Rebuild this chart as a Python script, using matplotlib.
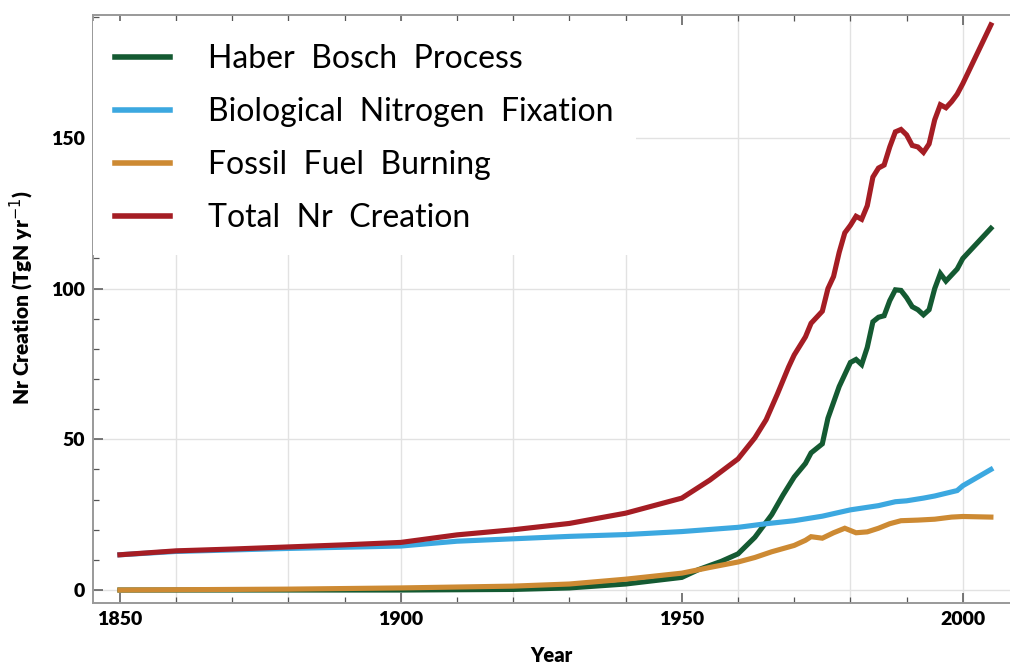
import matplotlib
matplotlib.use("Agg")
import matplotlib.pyplot as plt
from matplotlib.ticker import MultipleLocator, FixedLocator

# Haber Bosch Process
hb_years = [1850, 1900, 1910, 1920, 1930, 1940, 1950, 1953, 1957, 1960, 1963, 1966,
            1968, 1970, 1972, 1973, 1975, 1976, 1978, 1980, 1981, 1982, 1983, 1984,
            1985, 1986, 1987, 1988, 1989, 1990, 1991, 1992, 1993, 1994, 1995, 1996,
            1997, 1998, 1999, 2000, 2005]
hb_vals = [0, 0, 0.1, 0.2, 0.7, 2.0, 4.2, 6.8, 9.5, 12, 17.5, 25,
           31.5, 37.5, 42, 45.5, 48.5, 57, 67.5, 75.5, 76.5, 74.8, 80.5, 89,
           90.5, 91, 96, 99.6, 99.4, 97, 94, 93, 91.3, 93, 100, 105,
           102.5, 104.5, 106.5, 110, 120]

# Biological Nitrogen Fixation
bnf_years = [1850, 1860, 1870, 1880, 1890, 1900, 1910, 1920, 1930, 1940, 1950, 1955,
             1960, 1965, 1970, 1975, 1980, 1985, 1988, 1990, 1993, 1995, 1999, 2000, 2005]
bnf_vals = [11.7, 12.8, 13.3, 13.8, 14.2, 14.6, 16.2, 17.0, 17.8, 18.4, 19.4, 20.1,
            20.8, 22.0, 23.0, 24.5, 26.6, 28.0, 29.3, 29.6, 30.5, 31.2, 33.0, 34.6, 40.0]

# Fossil Fuel Burning
ff_years = [1850, 1860, 1870, 1880, 1890, 1900, 1910, 1920, 1930, 1940, 1950, 1955,
            1960, 1963, 1966, 1970, 1972, 1973, 1975, 1977, 1979, 1981, 1983, 1985,
            1987, 1989, 1992, 1995, 1998, 2000, 2005]
ff_vals = [0, 0.1, 0.2, 0.3, 0.5, 0.7, 1.0, 1.3, 2.0, 3.6, 5.6, 7.5,
           9.3, 10.8, 12.7, 14.8, 16.5, 17.7, 17.2, 19.0, 20.5, 19.0, 19.3, 20.5,
           22.0, 23.0, 23.2, 23.5, 24.2, 24.4, 24.2]

# Total Nr Creation
tot_years = [1850, 1860, 1870, 1880, 1890, 1900, 1910, 1920, 1930, 1940, 1950, 1955,
             1960, 1963, 1965, 1967, 1969, 1970, 1972, 1973, 1975, 1976, 1977, 1978,
             1979, 1980, 1981, 1982, 1983, 1984, 1985, 1986, 1987, 1988, 1989, 1990,
             1991, 1992, 1993, 1994, 1995, 1996, 1997, 1998, 1999, 2000, 2005]
tot_vals = [11.7, 13.0, 13.6, 14.3, 15.0, 15.8, 18.3, 20.0, 22.1, 25.5, 30.5, 36.5,
            43.5, 50.5, 56.5, 65, 74, 78, 84, 88.5, 92.5, 100, 104, 112,
            118.5, 121, 124, 123, 127.5, 137, 140, 141, 147, 152, 152.8, 151,
            147.5, 147, 145.2, 148, 156, 161, 160, 162, 164.5, 168, 187.5]

labels = ["Haber  Bosch  Process", "Biological  Nitrogen  Fixation",
          "Fossil  Fuel  Burning", "Total  Nr  Creation"]
colors = ["#145a32", "#3ca8e0", "#cd8a33", "#a51d24"]

plt.rcParams['font.family'] = ['Lato', 'DejaVu Sans']

fig = plt.figure(figsize=(10.1, 6.66), dpi=100)
ax = fig.add_axes([0.092, 0.0946, 0.908, 0.883])

series = [(hb_years, hb_vals), (bnf_years, bnf_vals), (ff_years, ff_vals), (tot_years, tot_vals)]
for (x, y), lab, c in zip(series, labels, colors):
    ax.plot(x, y, color=c, lw=3.7, label=lab, solid_joinstyle='miter')

ax.set_xlim(1845.2, 2008.4)
ax.set_ylim(-4.3, 190.8)

ax.xaxis.set_major_locator(FixedLocator([1850, 1900, 1950, 2000]))
ax.xaxis.set_minor_locator(MultipleLocator(10))
ax.yaxis.set_major_locator(MultipleLocator(50))
ax.yaxis.set_minor_locator(MultipleLocator(10))

for yr in range(1860, 2001, 20):
    ax.axvline(yr, color='#e2e2e2', lw=1, zorder=0)
for v in [0, 50, 100, 150]:
    ax.axhline(v, color='#e2e2e2', lw=1, zorder=0)

ax.tick_params(which='both', direction='in', top=True, right=False, color='#555555')
ax.tick_params(which='major', length=7, width=1.1, labelsize=14, pad=6)
ax.tick_params(which='minor', length=4, width=0.9)
for t in ax.get_xticklabels() + ax.get_yticklabels():
    t.set_fontweight('heavy')

for s in ['left', 'bottom', 'top']:
    ax.spines[s].set_color('#999999')
    ax.spines[s].set_linewidth(1.4)
ax.spines['right'].set_visible(False)

ax.set_xlabel('Year', fontsize=14.5, fontweight='heavy', labelpad=13)
ax.set_ylabel('Nr Creation (TgN yr$^{-1}$)', fontsize=15, fontweight='heavy')
ax.yaxis.set_label_coords(-0.062, 0.52)

leg = ax.legend(loc='upper left', bbox_to_anchor=(0.0, 0.989), fontsize=23,
                frameon=True, framealpha=1, edgecolor='none', facecolor='white',
                handlelength=1.72, handletextpad=1.19, labelspacing=0.72,
                borderpad=0.7, borderaxespad=0.0, fancybox=False)
leg.set_zorder(5)
for h in leg.get_lines():
    h.set_linewidth(4)

fig.savefig('out.png', dpi=100)
